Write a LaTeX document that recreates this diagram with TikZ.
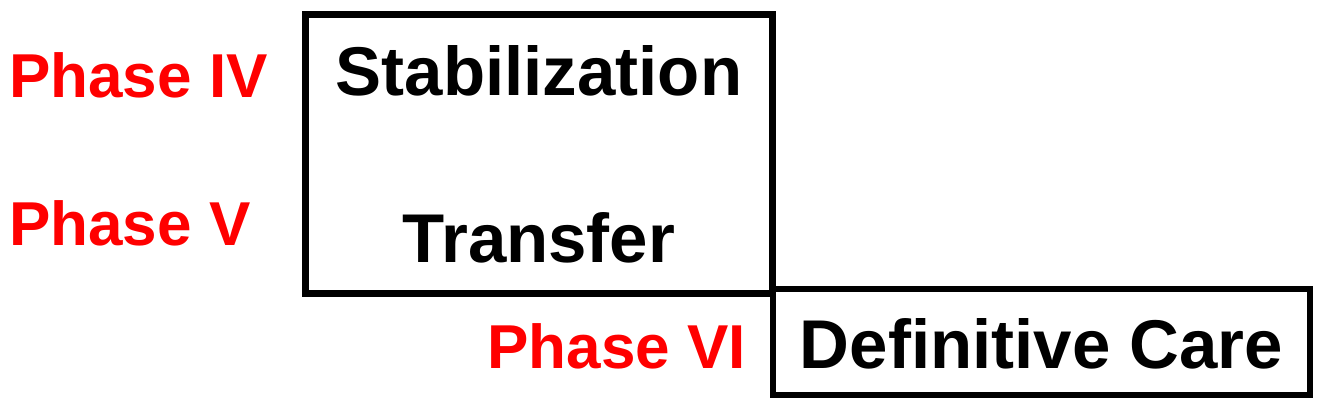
\documentclass[tikz,border=0pt]{standalone}
\usepackage{fontspec}
\setmainfont{Liberation Sans}
\usetikzlibrary{positioning}

\tikzset{
  phasebox/.style={draw, line width=6.5pt, rectangle, inner sep=0pt},
  steptext/.style={font=\bfseries\fontsize{69}{80}\selectfont, anchor=base, inner sep=0pt},
  phaselabel/.style={font=\bfseries\fontsize{62}{72}\selectfont, text=red, inner sep=0pt}
}

\begin{document}
\begin{tikzpicture}[x=1pt, y=-1pt]
\useasboundingbox (0,0) rectangle (1323,410);

% the two boxes
\node[phasebox, minimum width=467pt, minimum height=279pt] (upperbox) at (539,154) {};
\node[phasebox, minimum width=537pt, minimum height=106pt] (carebox) at (1041.5,342) {};

\node[steptext] (stabilization) at (539,95) {Stabilization};
\node[steptext] (transfer) at (539,262) {Transfer};
\node[steptext] (care) at (1041.5,368) {Definitive Care};

% phase labels
\node[phaselabel, anchor=base west] (phasefour) at (9,97) {Phase IV};
\node[phaselabel, anchor=base west] (phasefive) at (9,245) {Phase V};
\node[phaselabel, anchor=base east] (phasesix) at (746,368) {Phase VI};

\end{tikzpicture}
\end{document}
